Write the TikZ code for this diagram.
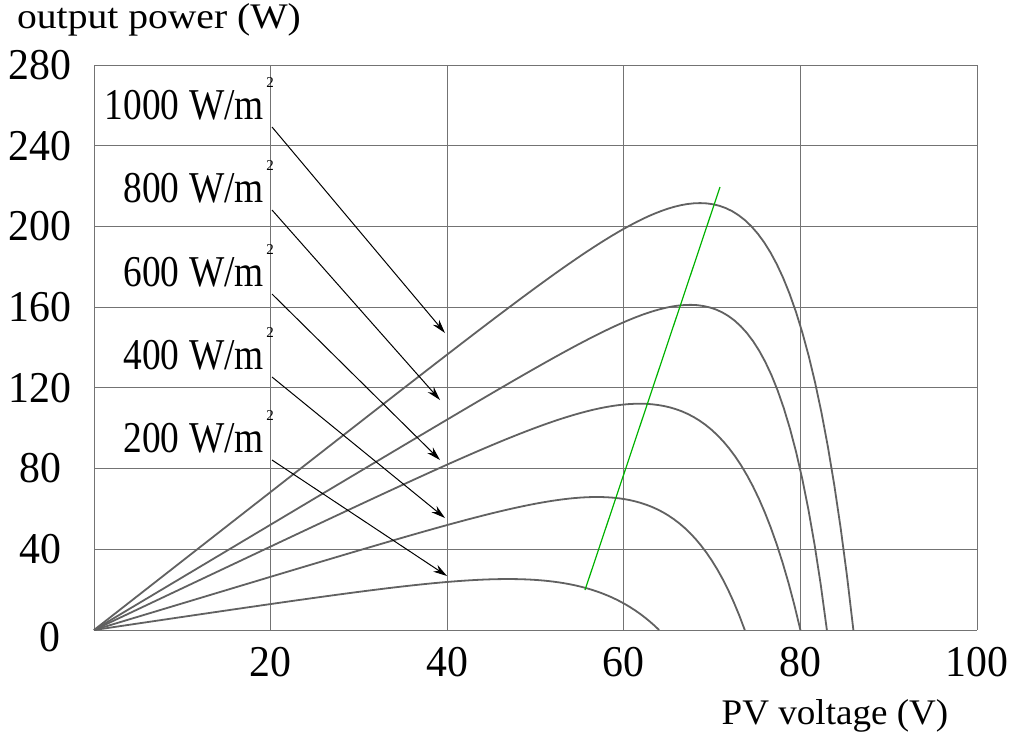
\documentclass[tikz,border=0pt]{standalone}
\usepackage{fontspec}
\setmainfont{Liberation Serif}
\usetikzlibrary{arrows.meta}
\begin{document}
\begin{tikzpicture}[x=1pt,y=-1pt,
  grid/.style={draw=black!55,line width=0.9pt},
  curve/.style={draw=black!62,line width=1.8pt},
  lab/.style={font=\fontsize{44}{44}\selectfont,inner sep=0pt,xscale=0.85},
  tick/.style={font=\fontsize{44}{44}\selectfont,inner sep=0pt,xscale=0.95},
  sup/.style={font=\fontsize{15}{15}\selectfont,inner sep=0pt},
  arr/.style={-{Stealth[length=14pt,width=8pt]},line width=1pt}]
\useasboundingbox (0,0) rectangle (1024,745);
\def\X#1{94+8.83*(#1)}
\def\Y#1{630-2.018*(#1)}
% grid
\foreach \v in {20,40,60,80,100} \draw[grid] ({\X{\v}},65) -- ({\X{\v}},630);
\foreach \p in {40,80,...,280} \draw[grid] (94,{\Y{\p}}) -- (977,{\Y{\p}});
\draw[grid] (94,65) -- (94,630) -- (977,630);
% ticks
\foreach \p in {40,80,...,280} \node[tick] at (40,{\Y{\p}}) {\p};
\node[tick] at (50,637) {0};
\foreach \v in {20,40,60,80,100} \node[tick] at ({\X{\v}},662) {\v};
\node[font=\fontsize{36}{36}\selectfont,inner sep=0pt,xscale=1.1] (yl) at (159,20) {output power (W)};
\node[font=\fontsize{36}{36}\selectfont,inner sep=0pt,xscale=1.03] (xl) at (835,716) {PV voltage (V)};
% curves P = c V (1-exp((V-Voc)/a))
\draw[curve] plot[domain=0:86,samples=120] ({\X{\x}},{\Y{3.42*\x*(1-exp((\x-86)/7.5))}});
\draw[curve] plot[domain=0:83,samples=120] ({\X{\x}},{\Y{2.61*\x*(1-exp((\x-83)/6.3))}});
\draw[curve] plot[domain=0:80,samples=120] ({\X{\x}},{\Y{2.07*\x*(1-exp((\x-80)/8.7))}});
\draw[curve] plot[domain=0:73.7,samples=120] ({\X{\x}},{\Y{1.32*\x*(1-exp((\x-73.7)/8))}});
\draw[curve] plot[domain=0:64,samples=120] ({\X{\x}},{\Y{0.65*\x*(1-exp((\x-64)/9.7))}});
% MPP line
\coordinate (g1) at (585,590);
\coordinate (g2) at (720,187);
\draw[green!70!black,line width=1.2pt] (g1) -- (g2);
% labels and arrows
\foreach \n/\t/\y/\ex/\ey in {a/1000/105/445/333, b/800/188/440/400, c/600/272/440/460, d/400/355/445/518, e/200/438/447/576}{
  \node[lab,anchor=east] (\n) at (264,\y) {\t\ W/m};
  \node[sup] at (270,\y-22) {2};
  \coordinate (\n e) at (\ex,\ey);
  \draw[arr] (272,\y+22) -- (\n e);
}
\end{tikzpicture}
\end{document}
